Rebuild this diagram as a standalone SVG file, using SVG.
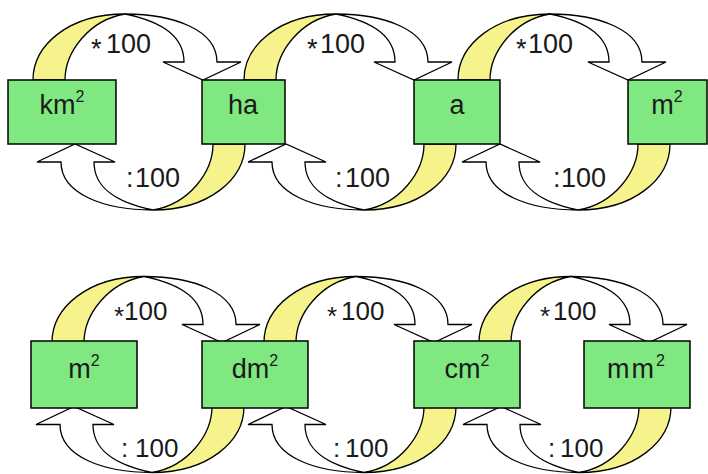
<svg xmlns="http://www.w3.org/2000/svg" xmlns:xlink="http://www.w3.org/1999/xlink" width="708" height="474" viewBox="0 0 708 474">
<style>
.box{fill:#80e880;stroke:#000;stroke-width:1.5}
.lbl{font-family:"Liberation Sans",Arial,sans-serif;font-size:27px;fill:#1a1a1a;text-anchor:middle}
.sup{font-size:16px}
.op{font-family:"Liberation Sans",Arial,sans-serif;font-size:27px;fill:#1a1a1a}
.op2{font-size:26px}
.yel{fill:#f7f38c;stroke:#000;stroke-width:1.3;stroke-linejoin:miter}
.wht{fill:#fff;stroke:#000;stroke-width:1.3;stroke-linejoin:miter}
</style>
<defs>
<g id="arc">
<path class="yel" d="M -106,-32 C -106,-67 -70,-98 -14,-98 C -50,-92 -74,-60 -74,-32 Z"/>
<path class="wht" d="M -14,-98 C 35,-98 78,-82 78,-50 L 102,-50 L 64,-32 L 24,-50 L 45,-50 C 45,-75 25,-90 -14,-98 Z"/>
</g>
</defs>
<rect width="708" height="474" fill="#fff"/>
<g id="connectors">
<use xlink:href="#arc" transform="translate(139,112)"/>
<use xlink:href="#arc" transform="translate(139,112) rotate(180)"/>
<use xlink:href="#arc" transform="translate(350,112)"/>
<use xlink:href="#arc" transform="translate(350,112) rotate(180)"/>
<use xlink:href="#arc" transform="translate(564,112)"/>
<use xlink:href="#arc" transform="translate(564,112) rotate(180)"/>
<use xlink:href="#arc" transform="translate(148,374.5) translate(10,0)"/>
<use xlink:href="#arc" transform="translate(148,374.5) rotate(180) translate(10,0)"/>
<use xlink:href="#arc" transform="translate(360,374.5) translate(10,0)"/>
<use xlink:href="#arc" transform="translate(360,374.5) rotate(180) translate(10,0)"/>
<use xlink:href="#arc" transform="translate(575,374.5) translate(10,0)"/>
<use xlink:href="#arc" transform="translate(575,374.5) rotate(180) translate(10,0)"/>
<text class="op"><tspan x="91" y="58">*</tspan><tspan x="106" y="53">100</tspan></text>
<text class="op"><tspan x="126" y="187">:</tspan><tspan x="135" y="187">100</tspan></text>
<text class="op"><tspan x="307" y="58">*</tspan><tspan x="320" y="53">100</tspan></text>
<text class="op"><tspan x="335" y="187">:</tspan><tspan x="345" y="187">100</tspan></text>
<text class="op"><tspan x="516" y="58">*</tspan><tspan x="528" y="53">100</tspan></text>
<text class="op"><tspan x="553" y="187">:</tspan><tspan x="561" y="187">100</tspan></text>
<text class="op op2"><tspan x="114" y="325">*</tspan><tspan x="124" y="320">100</tspan></text>
<text class="op op2"><tspan x="121" y="457">:</tspan><tspan x="135" y="457">100</tspan></text>
<text class="op op2"><tspan x="327" y="325">*</tspan><tspan x="341" y="320">100</tspan></text>
<text class="op op2"><tspan x="333" y="457">:</tspan><tspan x="345" y="457">100</tspan></text>
<text class="op op2"><tspan x="540" y="325">*</tspan><tspan x="553" y="320">100</tspan></text>
<text class="op op2"><tspan x="548" y="457">:</tspan><tspan x="560" y="457">100</tspan></text>
</g>
<g id="node-km2"><rect class="box" x="8" y="80" width="108" height="64"/><text class="lbl" x="62" y="114">km<tspan class="sup" dy="-12">2</tspan></text></g>
<g id="node-ha"><rect class="box" x="202" y="80" width="83" height="64"/><text class="lbl" x="243" y="114">ha</text></g>
<g id="node-a"><rect class="box" x="414" y="80" width="86" height="64"/><text class="lbl" x="457" y="114">a</text></g>
<g id="node-m2-top"><rect class="box" x="628" y="80" width="79" height="64"/><text class="lbl" x="667" y="114">m<tspan class="sup" dy="-12">2</tspan></text></g>
<g id="node-m2"><rect class="box" x="31" y="341" width="106" height="67"/><text class="lbl" x="84" y="378">m<tspan class="sup" dy="-12">2</tspan></text></g>
<g id="node-dm2"><rect class="box" x="202" y="341" width="106" height="67"/><text class="lbl" x="255" y="378">dm<tspan class="sup" dy="-12">2</tspan></text></g>
<g id="node-cm2"><rect class="box" x="414" y="341" width="106" height="67"/><text class="lbl" x="467" y="378">cm<tspan class="sup" dy="-12">2</tspan></text></g>
<g id="node-mm2"><rect class="box" x="584" y="341" width="106" height="67"/><text class="lbl" x="637" y="378" letter-spacing="2">mm<tspan class="sup" dy="-12">2</tspan></text></g>
</svg>
